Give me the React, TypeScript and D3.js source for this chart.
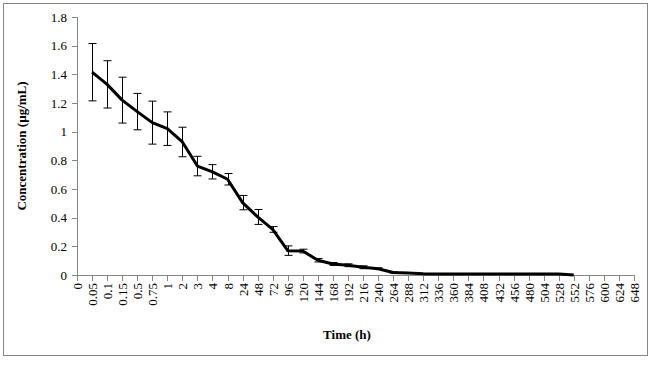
import { scaleLinear, scalePoint, line } from "d3";

const times = [
  "0", "0.05", "0.1", "0.15", "0.5", "0.75", "1", "2", "3", "4", "8", "24", "48", "72", "96",
  "120", "144", "168", "192", "216", "240", "264", "288", "312", "336", "360", "384", "408",
  "432", "456", "480", "504", "528", "552", "576", "600", "624", "648",
];

// measured concentration (µg/mL), one per time after 0 until 552 h
const concTimes = [
  "0.05", "0.1", "0.15", "0.5", "0.75", "1", "2", "3", "4", "8", "24", "48", "72", "96",
  "120", "144", "168", "192", "216", "240", "264", "288", "312", "336", "360", "384", "408",
  "432", "456", "480", "504", "528", "552",
];
const conc = [
  1.415, 1.33, 1.22, 1.14, 1.063, 1.021, 0.928, 0.76, 0.72, 0.668, 0.505, 0.405, 0.318, 0.17,
  0.167, 0.103, 0.077, 0.068, 0.054, 0.044, 0.018, 0.014, 0.008, 0.007, 0.007, 0.007, 0.007,
  0.007, 0.007, 0.007, 0.007, 0.007, 0,
];
const sd = [
  0.2, 0.165, 0.16, 0.127, 0.15, 0.117, 0.103, 0.068, 0.05, 0.04, 0.05, 0.052, 0.02, 0.033,
  0.013, 0.012, 0.01, 0.01, 0.01, 0.006, 0.004, 0.002, 0, 0, 0, 0, 0, 0, 0, 0, 0, 0, 0,
];
const yTicks = [0, 0.2, 0.4, 0.6, 0.8, 1, 1.2, 1.4, 1.6, 1.8];

const width = 652;
const height = 366;
const plot = { left: 77, right: 634, top: 17, bottom: 275 };
const axisColor = "#868686";
const font = '"Liberation Serif", "Times New Roman", serif';

function App() {
  const x = scalePoint<string>().domain(times).range([plot.left, plot.right]);
  const y = scaleLinear().domain([0, 1.8]).range([plot.bottom, plot.top]);

  const pts = concTimes.map((t, i) => ({ t, v: conc[i], e: sd[i] }));
  const path = line<{ t: string; v: number }>()
    .x((d) => x(d.t)!)
    .y((d) => y(d.v))(pts);

  return (
    <svg
      width={width}
      height={height}
      fontFamily={font}
      style={{ position: "absolute", left: 0, top: 0, background: "#fff" }}
    >
      <rect x={3.5} y={3.5} width={644} height={352} fill="#fff" stroke={axisColor} />

      {/* y axis */}
      <line x1={plot.left + 0.5} x2={plot.left + 0.5} y1={plot.top} y2={plot.bottom} stroke={axisColor} />
      {yTicks.map((t) => (
        <g key={t}>
          <line
            x1={plot.left - 5}
            x2={plot.left}
            y1={Math.round(y(t)) + 0.5}
            y2={Math.round(y(t)) + 0.5}
            stroke={axisColor}
          />
          <text x={plot.left - 10} y={y(t)} dy="0.35em" textAnchor="end" fontSize={13}>
            {t}
          </text>
        </g>
      ))}

      {/* x axis */}
      <line x1={plot.left} x2={plot.right} y1={plot.bottom + 0.5} y2={plot.bottom + 0.5} stroke={axisColor} />
      {times.map((t) => {
        const px = Math.round(x(t)!) + 0.5;
        return (
          <g key={t}>
            <line x1={px} x2={px} y1={plot.bottom} y2={plot.bottom + 6} stroke={axisColor} />
            <text
              transform={`translate(${px + 4.5}, ${plot.bottom + 8}) rotate(-90)`}
              textAnchor="end"
              fontSize={13}
            >
              {t}
            </text>
          </g>
        );
      })}

      {/* series */}
      <path d={path ?? ""} fill="none" stroke="#000" strokeWidth={3} strokeLinejoin="round" />
      {pts
        .filter((d) => d.e > 0)
        .map((d) => {
          const px = Math.round(x(d.t)!) + 0.5;
          const y1 = y(d.v + d.e);
          const y2 = y(d.v - d.e);
          return (
            <g key={d.t} stroke="#000" strokeWidth={1}>
              <line x1={px} x2={px} y1={y1} y2={y2} />
              <line x1={px - 4} x2={px + 4} y1={y1} y2={y1} />
              <line x1={px - 4} x2={px + 4} y1={y2} y2={y2} />
            </g>
          );
        })}

      {/* titles */}
      <text
        transform={`translate(26, ${(plot.top + plot.bottom) / 2}) rotate(-90)`}
        textAnchor="middle"
        fontSize={13}
        fontWeight={700}
      >
        Concentration (µg/mL)
      </text>
      <text x={347} y={339} textAnchor="middle" fontSize={13} fontWeight={700}>
        Time (h)
      </text>
    </svg>
  );
}

export default App;
